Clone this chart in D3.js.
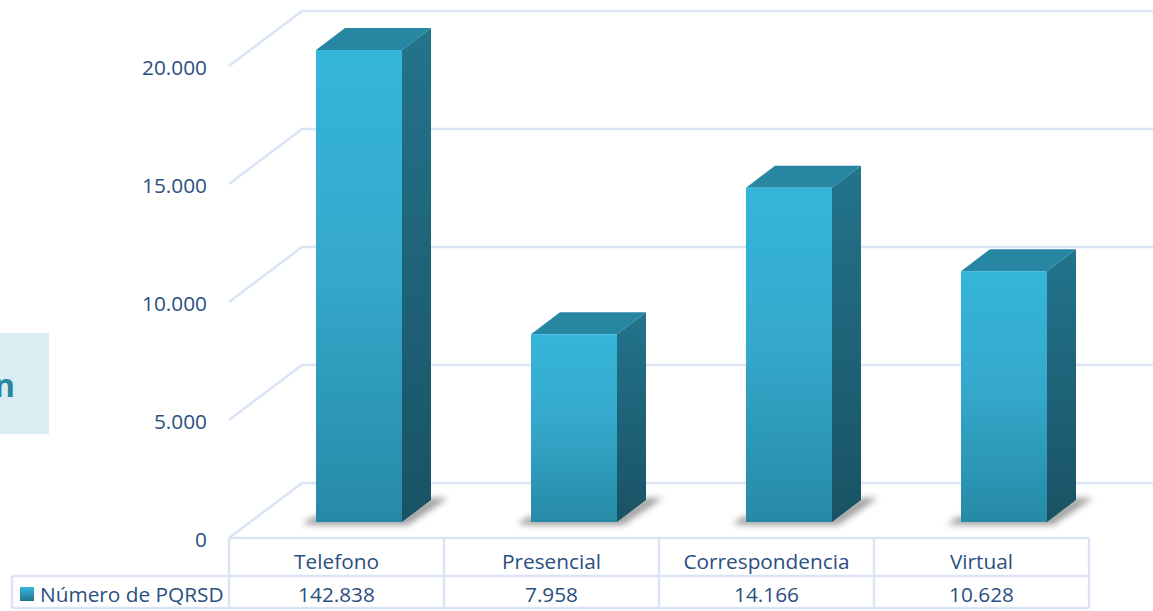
<!DOCTYPE html>
<html><head><meta charset="utf-8">
<script src="https://cdn.jsdelivr.net/npm/d3@7/dist/d3.min.js"></script>
<style>html,body{margin:0;padding:0;background:#fff;overflow:hidden}svg{display:block}text{font-family:"Open Sans","Noto Sans",sans-serif}</style>
</head><body><svg id="c" width="1153" height="611"></svg>
<script>
const categories = ["Telefono","Presencial","Correspondencia","Virtual"];
const seriesName = "Número de PQRSD";
const values = [142838,7958,14166,10628];
const tableLabels = ["142.838","7.958","14.166","10.628"];
const yTicks = [0,5000,10000,15000,20000];
const tickLabels = ["0","5.000","10.000","15.000","20.000"];

const W=1153,H=611, gridC="#d9e4f4", textC="#2a4f80", fs=20.8;
const svg=d3.select("#c");
const defs=svg.append("defs");
function grad(id,stops){const g=defs.append("linearGradient").attr("id",id).attr("x1",0).attr("x2",0).attr("y1",0).attr("y2",1);
 stops.forEach(s=>g.append("stop").attr("offset",s[0]).attr("stop-color",s[1]));}
grad("front",[[0,"#35b5da"],[0.45,"#35a9cd"],[1,"#268aa6"]]);
grad("side",[[0,"#23748c"],[1,"#195264"]]);
grad("legendSw",[[0,"#35b6dc"],[1,"#23748c"]]);
const blur=defs.append("filter").attr("id","sh").attr("x","-30%").attr("y","-100%").attr("width","160%").attr("height","300%");
blur.append("feGaussianBlur").attr("stdDeviation",3);

const y=d3.scaleLinear().domain([0,20000]).range([538,66]).clamp(true);
const x=d3.scaleBand().domain(categories).range([229,1089]);
const depthX=73, depthY=55, floorY=16, barW=86, barDx=29, barDy=22;

// callout at left
svg.append("rect").attr("x",0).attr("y",333).attr("width",49).attr("height",101).attr("fill","#daedf3");
svg.append("text").attr("x",15).attr("y",397).attr("text-anchor","end").attr("font-size",32).attr("font-weight",700).attr("fill","#2a879f").text("n");

// walls
const g=svg.append("g").attr("fill","none").attr("stroke",gridC).attr("stroke-width",2.6);
yTicks.forEach(t=>{
  g.append("path").attr("d",d3.line()([[229,y(t)],[229+depthX,y(t)-depthY],[W,y(t)-depthY]]));
});
// tick labels
svg.selectAll("text.yt").data(yTicks).join("text").attr("class","yt")
  .attr("x",207).attr("y",d=>y(d)+8.5).attr("text-anchor","end").attr("font-size",fs).attr("fill",textC)
  .text((d,i)=>tickLabels[i]);

// bars
categories.forEach((c,i)=>{
  const v=values[i], l=x(c)+87, r=l+barW, b=y(0)-floorY, t=y(v)-floorY;
  svg.append("path").attr("d",d3.line()([[l-14,b+2],[l-3,b-5],[r,b-5],[r+barDx,b-barDy-2],[r+barDx+17,b-barDy-2],[r+6,b+3],[l,b+3]]))
    .attr("fill","#777").attr("opacity",.7).attr("filter","url(#sh)");
  svg.append("path").attr("d",d3.line()([[l,t],[l+barDx,t-barDy],[r+barDx,t-barDy],[r,t]])).attr("fill","#2787a3");
  svg.append("path").attr("d",d3.line()([[r,t],[r+barDx,t-barDy],[r+barDx,b-barDy],[r,b]])).attr("fill","url(#side)");
  svg.append("rect").attr("x",l).attr("y",t).attr("width",barW).attr("height",b-t).attr("fill","url(#front)");
});

// table
const tb=svg.append("g").attr("stroke",gridC).attr("stroke-width",2.4).attr("fill","none");
tb.append("path").attr("d","M229,538H1089 M12,576H1089 M12,608H1089 M12,576V608");
x.domain().forEach(c=>tb.append("path").attr("d",`M${x(c)},538V608`));
tb.append("path").attr("d","M1089,538V608");
categories.forEach((c,i)=>{
  const cx=x(c)+x.bandwidth()/2;
  svg.append("text").attr("x",cx).attr("y",568.5).attr("text-anchor","middle").attr("font-size",fs).attr("fill",textC).text(c);
  svg.append("text").attr("x",cx).attr("y",602).attr("text-anchor","middle").attr("font-size",fs).attr("fill",textC).text(tableLabels[i]);
});
svg.append("rect").attr("x",20).attr("y",587).attr("width",14).attr("height",14).attr("fill","url(#legendSw)");
svg.append("text").attr("x",40).attr("y",602).attr("font-size",fs).attr("fill",textC).text(seriesName);
</script></body></html>
